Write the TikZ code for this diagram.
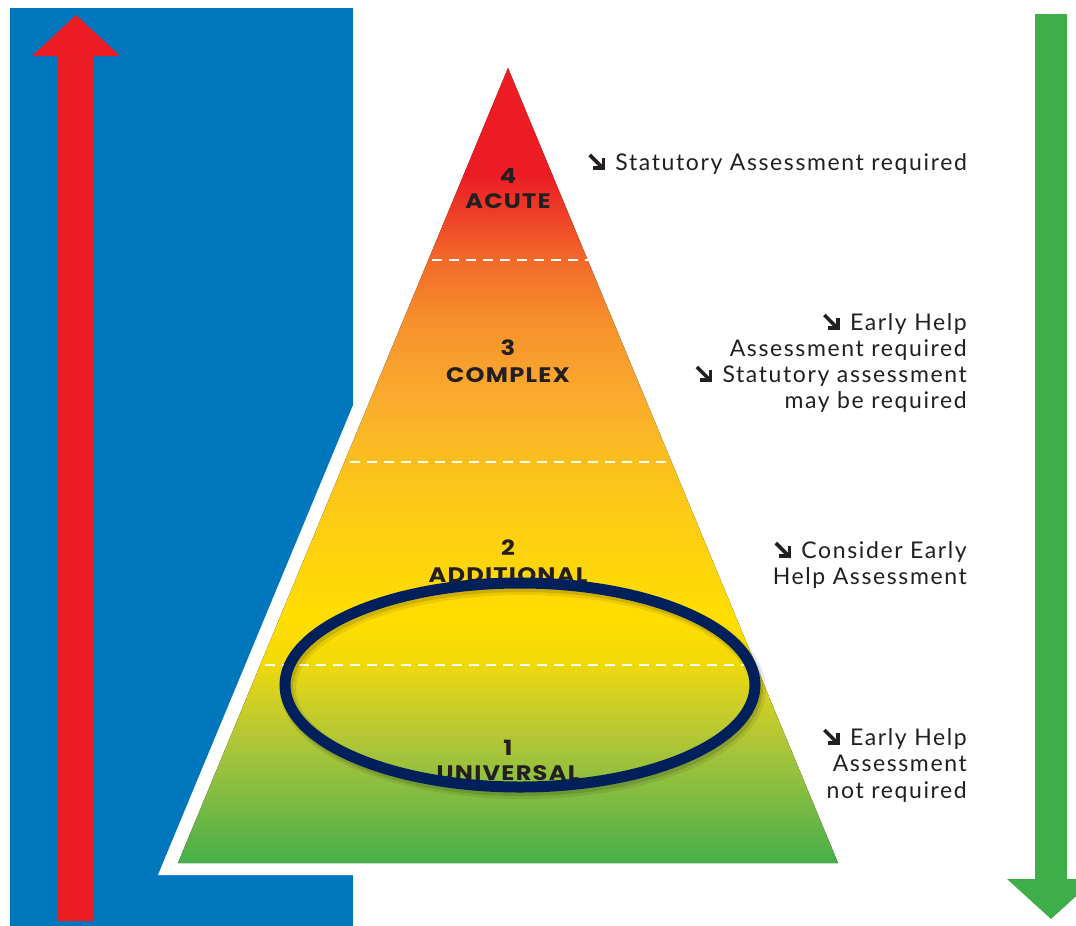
\documentclass[tikz,border=0pt]{standalone}
\usepackage{fontspec}
\usepackage{graphicx}
\usetikzlibrary{calc}
\setmainfont{Lato}[LetterSpace=7]
\newfontfamily\labf{Poppins}[LetterSpace=5]
\definecolor{bluebg}{HTML}{0077BD}
\definecolor{redarr}{HTML}{ED1C24}
\definecolor{greenarr}{HTML}{3FAE49}
\definecolor{navy}{HTML}{00205B}
\definecolor{txt}{HTML}{231F20}
\definecolor{c1}{HTML}{ED1C24}
\definecolor{c2}{HTML}{EF4A28}
\definecolor{c3}{HTML}{F26A2A}
\definecolor{c4}{HTML}{F6902B}
\definecolor{c5}{HTML}{FAAC2E}
\definecolor{c6}{HTML}{FCC21C}
\definecolor{c7}{HTML}{FED40C}
\definecolor{c8}{HTML}{FFDE00}
\definecolor{c9}{HTML}{F2DA07}
\definecolor{c10}{HTML}{D0CF25}
\definecolor{c11}{HTML}{A8C43A}
\definecolor{c12}{HTML}{7DBB42}
\definecolor{c13}{HTML}{3FAE49}
\tikzset{
  lvl/.style={inner sep=0pt, text=txt, font=\labf\fontsize{21}{25}\selectfont\bfseries, anchor=base},
  side/.style={inner sep=0pt, text=txt, font=\fontsize{23}{26}\selectfont, anchor=base east},
  tierline/.style={white, line width=2pt, dash pattern=on 10pt off 7pt},
  bullarr/.style={txt, line width=3.6pt, miter limit=10},
}
\newcommand{\lab}[1]{\scalebox{1.15}[1]{#1}}
\newcommand{\sidearrow}[1]{%
  \begin{scope}[shift={(#1.base west)}]
    \draw[bullarr, line cap=butt] (-25.5,-15) -- (-13,-2.5);
    \draw[bullarr, line join=miter] (-22,-1.8) -- (-11.8,-1.8) -- (-11.8,-12);
  \end{scope}}
\begin{document}
\begin{tikzpicture}[x=1pt,y=-1pt]
\useasboundingbox (0,0) rectangle (1076,926);
\fill[white] (0,0) rectangle (1076,926);
% blue panel
\fill[bluebg] (10,8) rectangle (353,926);
% red up arrow
\fill[redarr] (58,921) -- (58,56) -- (32,56) -- (76,15) -- (120,56) -- (93,56) -- (93,921) -- cycle;
% green down arrow
\fill[greenarr] (1035,14) -- (1067,14) -- (1067,879) -- (1095,879) -- (1051,919) -- (1007,879) -- (1035,879) -- cycle;
% white border of pyramid
\fill[white] (508,32) -- (858,875) -- (158,875) -- cycle;
% pyramid gradient
\begin{scope}
\clip (508,68) -- (838,863) -- (178,863) -- cycle;
\def\band#1#2#3#4{\fill[top color=#3, bottom color=#4] (170,#1) rectangle (850,#2);}
\band{60}{175.5}{c1}{c1}
\band{175}{225.5}{c1}{c2}
\band{225}{260.5}{c2}{c3}
\band{260}{320.5}{c3}{c4}
\band{320}{400.5}{c4}{c5}
\band{400}{470.5}{c5}{c6}
\band{470}{560.5}{c6}{c7}
\band{560}{620.5}{c7}{c8}
\band{620}{660.5}{c8}{c9}
\band{660}{700.5}{c9}{c10}
\band{700}{750.5}{c10}{c11}
\band{750}{800.5}{c11}{c12}
\band{800}{870}{c12}{c13}
\end{scope}
% tier separators
\coordinate (d1a) at (432,260); \coordinate (d1b) at (590,260);
\coordinate (d2a) at (350,462); \coordinate (d2b) at (666,462);
\coordinate (d3a) at (265,665); \coordinate (d3b) at (752,665);
\draw[tierline] (d1a) -- (d1b);
\draw[tierline] (d2a) -- (d2b);
\draw[tierline] (d3a) -- (d3b);
% level labels
\node[lvl] (n4) at (508,183) {\lab{4}};
\node[lvl] (l4) at (508,208) {\lab{ACUTE}};
\node[lvl] (n3) at (508,355) {\lab{3}};
\node[lvl] (l3) at (508,382) {\lab{COMPLEX}};
\node[lvl] (n2) at (508,555) {\lab{2}};
\node[lvl] (l2) at (508,582) {\lab{ADDITIONAL}};
\node[lvl] (n1) at (508,755) {\lab{1}};
\node[lvl] (l1) at (508,780) {\lab{UNIVERSAL}};
% highlight ellipse with soft shadow
\draw[black, opacity=0.08, line width=16pt] (523,689) ellipse [x radius=235pt, y radius=102pt];
\draw[black, opacity=0.12, line width=12pt] (522,688) ellipse [x radius=235pt, y radius=102pt];
\draw[navy, line width=11pt] (520,685) ellipse [x radius=235pt, y radius=102pt];
% side texts
\node[side] (s1) at (967,170) {Statutory Assessment required};
\node[side] (s2a) at (967,330) {Early Help};
\node[side] (s2b) at (967,356) {Assessment required};
\node[side] (s2c) at (967,382) {Statutory assessment};
\node[side] (s2d) at (967,408) {may be required};
\node[side] (s3a) at (967,558) {Consider Early};
\node[side] (s3b) at (967,584) {Help Assessment};
\node[side] (s4a) at (967,745) {Early Help};
\node[side] (s4b) at (967,771) {Assessment};
\node[side] (s4c) at (967,798) {not required};
\sidearrow{s1}
\sidearrow{s2a}
\sidearrow{s2c}
\sidearrow{s3a}
\sidearrow{s4a}
\end{tikzpicture}
\end{document}
